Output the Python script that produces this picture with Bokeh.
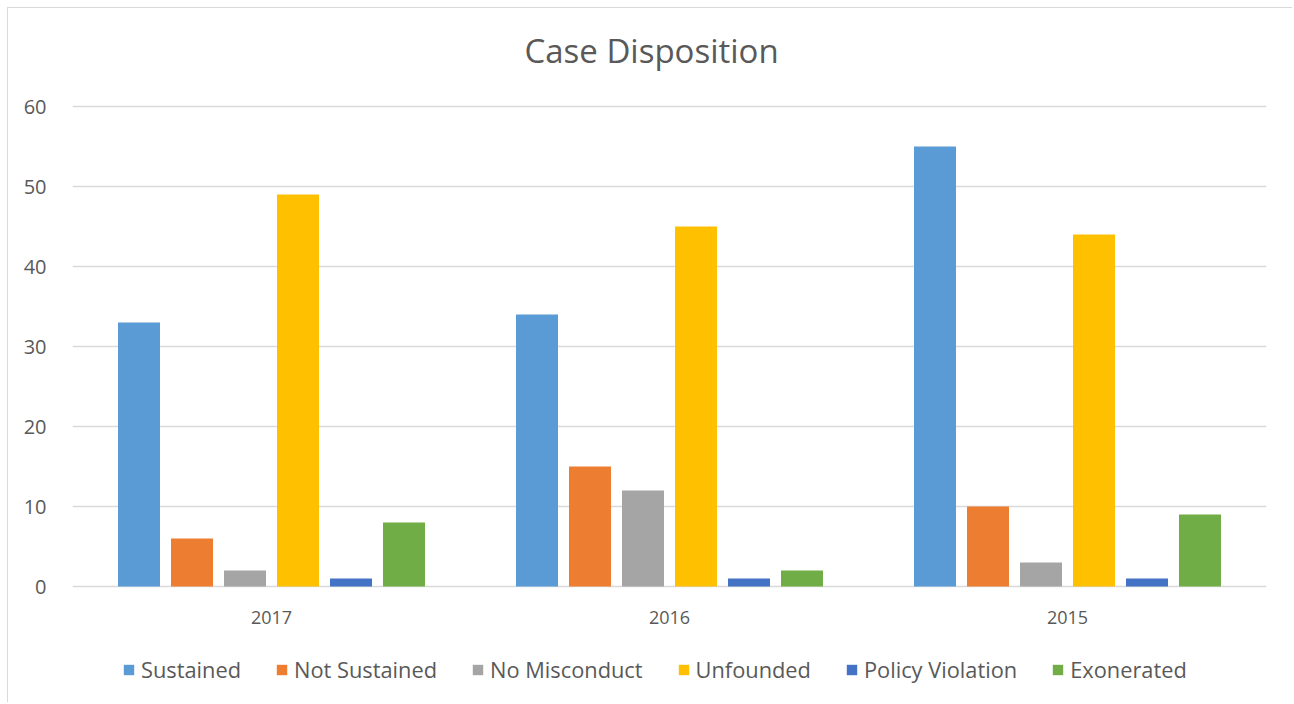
from bokeh.plotting import figure
from bokeh.models import ColumnDataSource, Range1d, Legend, LegendItem, FactorRange
from bokeh.core.properties import value
from bokeh.transform import dodge
from bokeh.embed import file_html
from bokeh.resources import INLINE

title = "Case Disposition"
years = ["2017", "2016", "2015"]
series = ["Sustained", "Not Sustained", "No Misconduct", "Unfounded", "Policy Violation", "Exonerated"]
sustained = [33, 34, 55]
not_sustained = [6, 15, 10]
no_misconduct = [2, 12, 3]
unfounded = [49, 45, 44]
policy_violation = [1, 1, 1]
exonerated = [8, 2, 9]
y_ticks = [0, 10, 20, 30, 40, 50, 60]
colors = ["#5B9BD5", "#ED7D31", "#A5A5A5", "#FFC000", "#4472C4", "#70AD47"]

FONT = "Open Sans"
TXT = "#595959"
GRID = "#D9D9D9"

source = ColumnDataSource(dict(
    year=years,
    s0=sustained, s1=not_sustained, s2=no_misconduct,
    s3=unfounded, s4=policy_violation, s5=exonerated,
))

p = figure(
    width=1285, height=695,
    x_range=FactorRange(*years),
    y_range=Range1d(-14.5, 72.25),
    output_backend="svg", toolbar_location=None,
    min_border_left=64, min_border_right=27, min_border_top=0, min_border_bottom=1,
)
p.styles = {"border-left": "1px solid #D9D9D9", "border-top": "1px solid #D9D9D9",
            "margin-left": "7px", "margin-top": "7px"}
p.outline_line_color = None

step = 53 / 398
width = 42 / 398
items = []
for i, name in enumerate(series):
    r = p.vbar(x=dodge("year", (i - 2.5) * step, range=p.x_range), top="s%d" % i,
               width=width, source=source, fill_color=colors[i], line_color=None)
    items.append(LegendItem(label=name, renderers=[r]))

# category labels below the baseline
p.text(x="year", y=-3.9, text="year", source=source,
       text_font=value(FONT), text_font_size="18px", text_color=TXT,
       text_align="center", text_baseline="middle")

# chart title, centred on the chart box
p.text(x=[1.455], y=[67], text=[title],
       text_font=value(FONT), text_font_size="33px", text_color=TXT,
       text_align="center", text_baseline="middle")

legend = Legend(items=items, orientation="horizontal", location=(50, 18),
                label_text_font=FONT, label_text_font_size="21.8px", label_text_color=TXT,
                glyph_width=13, glyph_height=13, label_standoff=6, spacing=34,
                border_line_color=None, background_fill_alpha=0, padding=0, margin=0)
p.add_layout(legend, "center")

p.xaxis.visible = False

p.yaxis.ticker = y_ticks
p.yaxis.axis_line_color = None
p.yaxis.major_tick_line_color = None
p.yaxis.minor_tick_line_color = None
p.yaxis.major_label_standoff = 20
p.yaxis.major_label_text_font = FONT
p.yaxis.major_label_text_font_size = "20px"
p.yaxis.major_label_text_color = TXT

p.xgrid.grid_line_color = None
p.ygrid.grid_line_color = GRID
p.ygrid.grid_line_width = 1.5

open("out.html", "w").write(file_html(p, INLINE))
